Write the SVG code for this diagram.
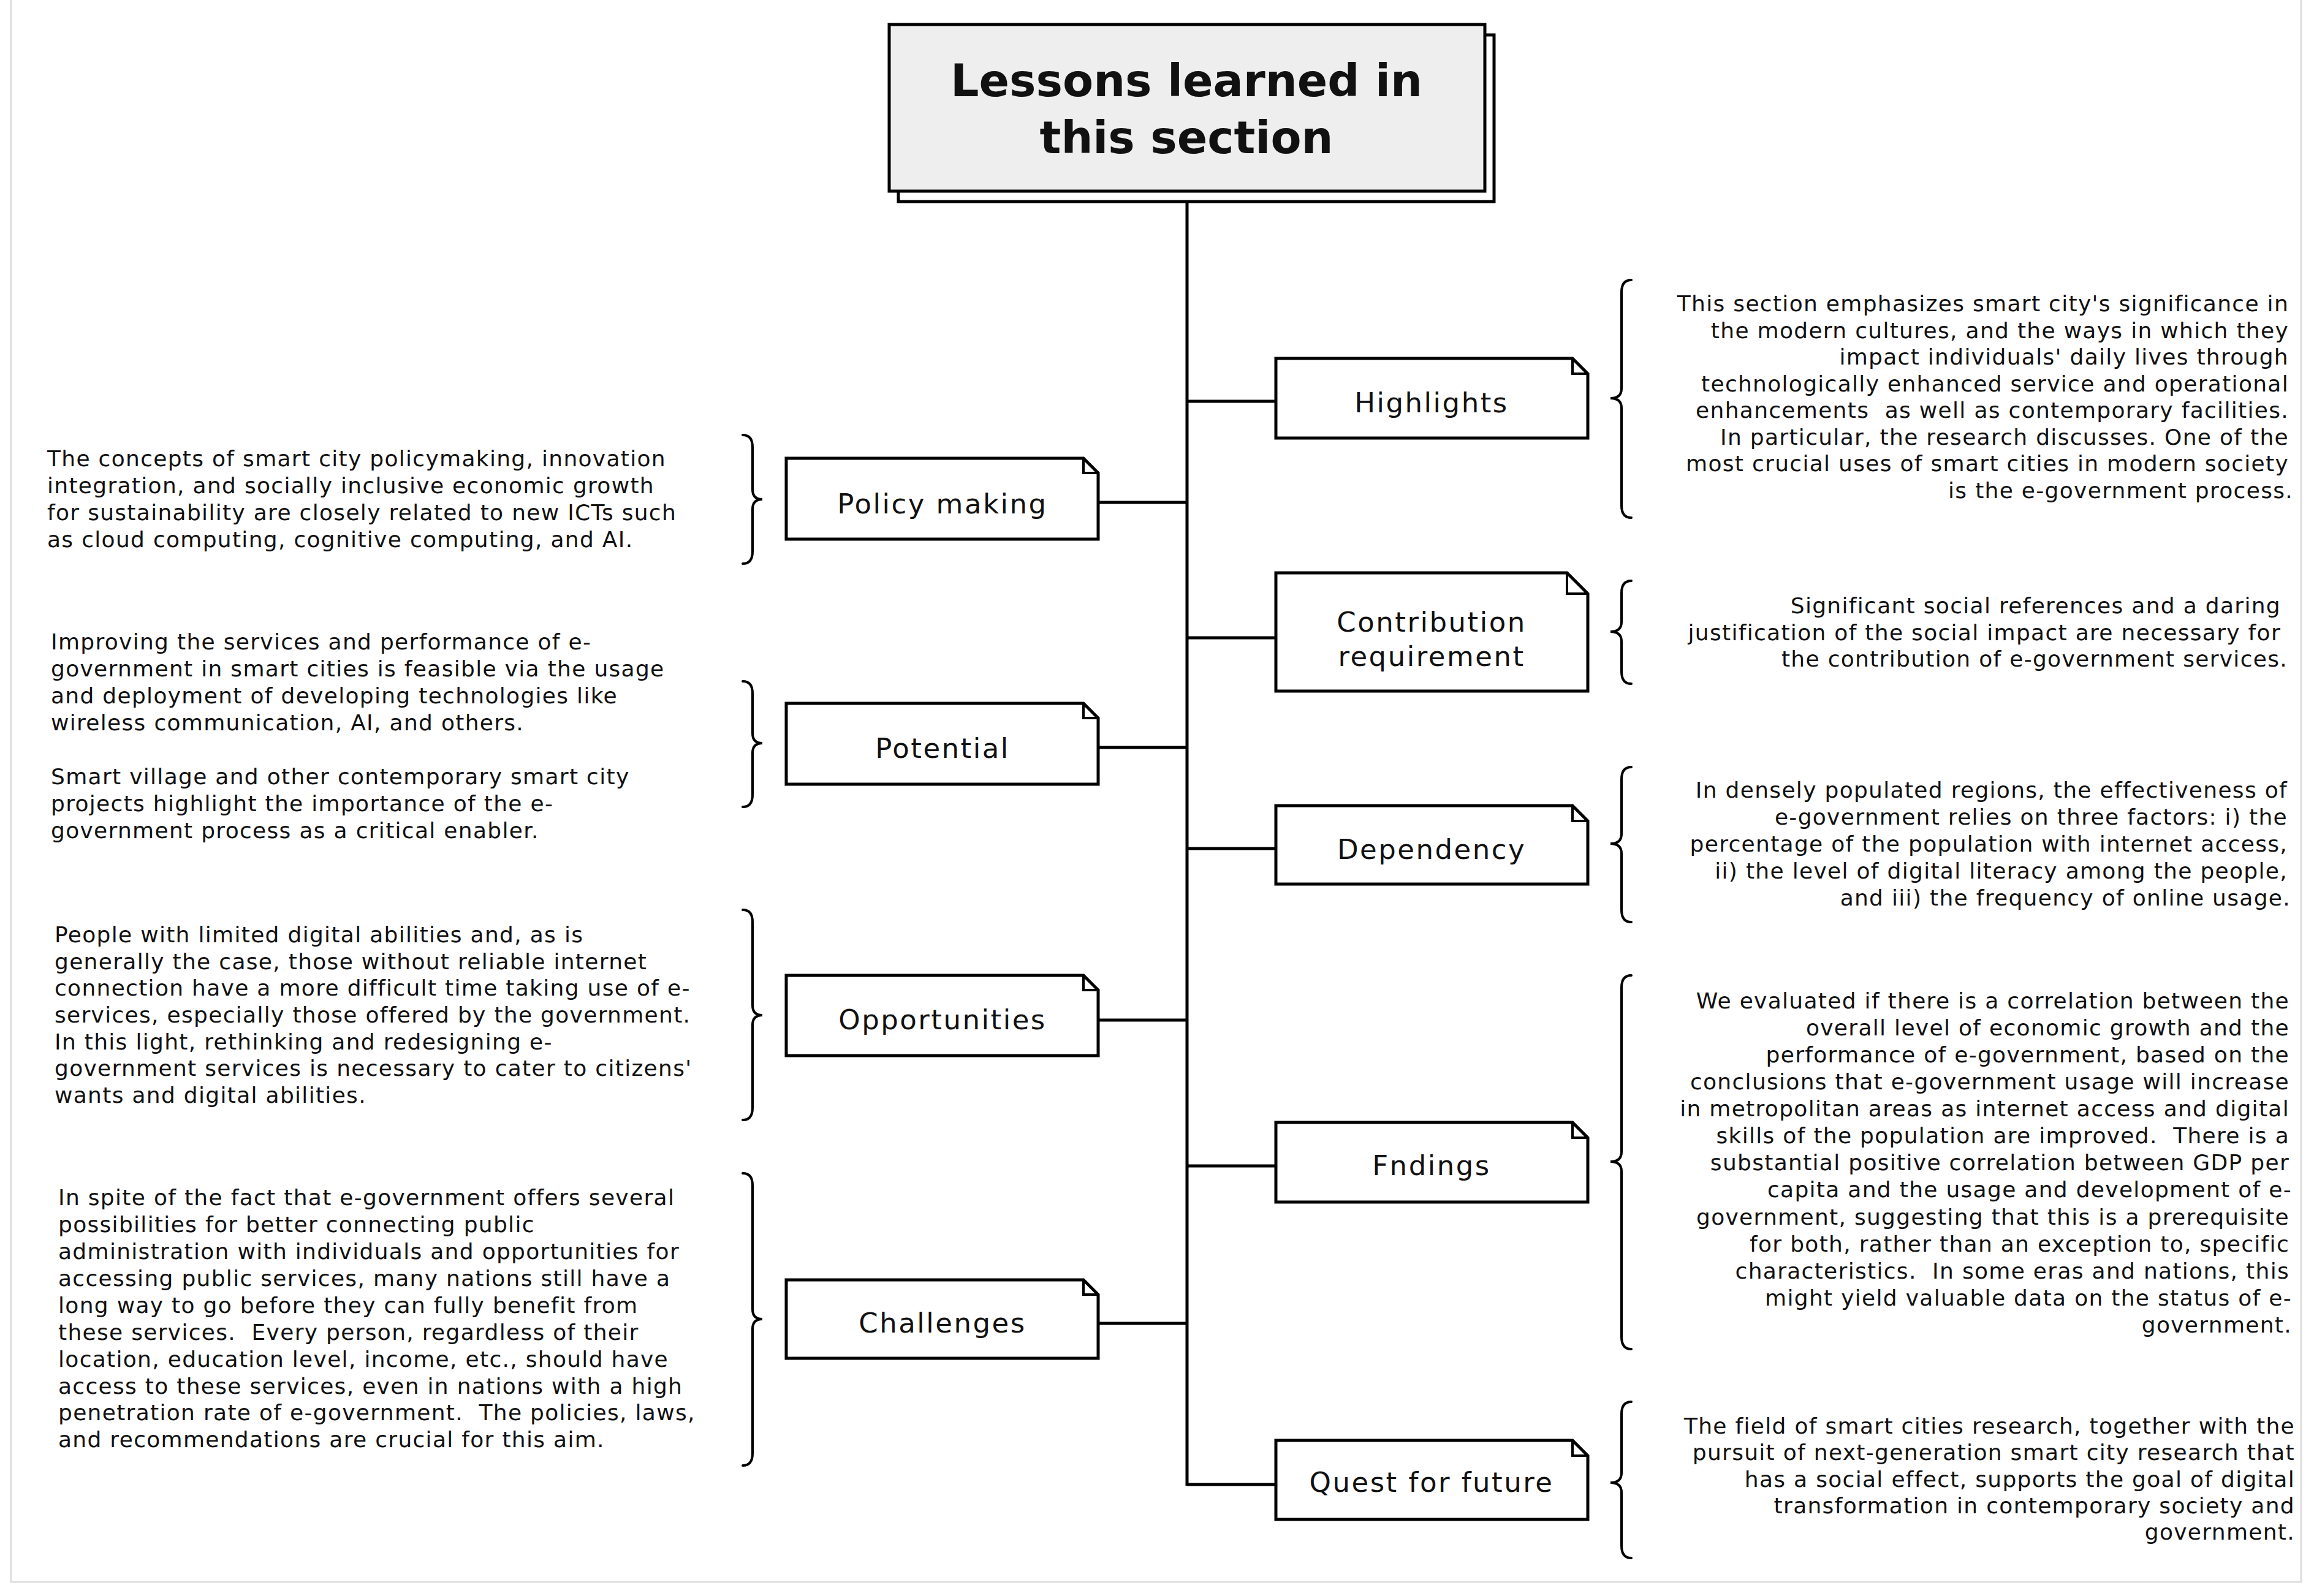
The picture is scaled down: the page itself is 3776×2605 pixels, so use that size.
<svg xmlns="http://www.w3.org/2000/svg" width="3776" height="2605" viewBox="0 0 3776 2605">
<style>
.frame{fill:none;stroke:#dddddd;stroke-width:3}
.box{fill:#ffffff;stroke:#000;stroke-width:5;stroke-linejoin:miter}
.fold{fill:none;stroke:#000;stroke-width:4}
.lbl{font-family:"DejaVu Sans",sans-serif;font-size:45px;letter-spacing:2.5px;fill:#111;text-anchor:middle}
.title{font-family:"DejaVu Sans",sans-serif;font-weight:bold;font-size:73px;fill:#111;text-anchor:middle}
.body{font-family:"DejaVu Sans",sans-serif;font-size:36px;letter-spacing:1.3px;fill:#111}
.r{text-anchor:end}
.brace{fill:none;stroke:#000;stroke-width:4;stroke-linecap:round}
.conn{fill:none;stroke:#000;stroke-width:5}
</style>
<rect class="frame" x="18" y="-10" width="3737" height="2592"/>

<g id="title">
<rect x="1466" y="57" width="972" height="272" fill="#fff" stroke="#000" stroke-width="5"/>
<rect x="1451" y="40" width="972" height="272" fill="#eeeeee" stroke="#000" stroke-width="5"/>
<text class="title"><tspan x="1936" y="157">Lessons learned in</tspan><tspan x="1936" y="250">this section</tspan></text>
</g>

<g id="connectors">
<line class="conn" x1="1937" y1="329" x2="1937" y2="2425"/>
<line class="conn" x1="1937" y1="655" x2="2082" y2="655"/>
<line class="conn" x1="1792" y1="820" x2="1937" y2="820"/>
<line class="conn" x1="1937" y1="1041" x2="2082" y2="1041"/>
<line class="conn" x1="1792" y1="1220" x2="1937" y2="1220"/>
<line class="conn" x1="1937" y1="1385" x2="2082" y2="1385"/>
<line class="conn" x1="1792" y1="1665" x2="1937" y2="1665"/>
<line class="conn" x1="1937" y1="1903" x2="2082" y2="1903"/>
<line class="conn" x1="1792" y1="2160" x2="1937" y2="2160"/>
<line class="conn" x1="1937" y1="2423" x2="2082" y2="2423"/>
</g>

<g id="highlights">
<path class="box" d="M2082,585 H2566 L2591,610 V715 H2082 Z"/>
<path class="fold" d="M2566,585 V610 H2591"/>
<text class="lbl" x="2336" y="673">Highlights</text>
<path class="brace" d="M2662,457 Q2646,457 2646,477 L2646,634 Q2646,650 2628,650 Q2646,650 2646,666 L2646,825 Q2646,845 2662,845"/>
<text class="body r"><tspan x="3735" y="508">This section emphasizes smart city's significance in</tspan><tspan x="3735" y="551.5">the modern cultures, and the ways in which they</tspan><tspan x="3735" y="595">impact individuals' daily lives through</tspan><tspan x="3735" y="638.5">technologically enhanced service and operational</tspan><tspan x="3735" y="682">enhancements&#160; as well as contemporary facilities.</tspan><tspan x="3735" y="725.5">In particular, the research discusses. One of the</tspan><tspan x="3735" y="769">most crucial uses of smart cities in modern society</tspan><tspan x="3742" y="812.5">is the e-government process.</tspan></text>
</g>

<g id="policy-making">
<path class="box" d="M1283,748 H1768 L1792,772 V880 H1283 Z"/>
<path class="fold" d="M1768,748 V772 H1792"/>
<text class="lbl" x="1538" y="838">Policy making</text>
<path class="brace" d="M1212,710 Q1228,710 1228,730 L1228,799 Q1228,815 1244,815 Q1228,815 1228,831 L1228,900 Q1228,920 1212,920"/>
<text class="body"><tspan x="77" y="761">The concepts of smart city policymaking, innovation</tspan><tspan x="77" y="805">integration, and socially inclusive economic growth</tspan><tspan x="77" y="849">for sustainability are closely related to new ICTs such</tspan><tspan x="77" y="893">as cloud computing, cognitive computing, and AI.</tspan></text>
</g>

<g id="contribution-requirement">
<path class="box" d="M2082,935 H2557 L2591,969 V1128 H2082 Z"/>
<path class="fold" d="M2557,935 V969 H2591"/>
<text class="lbl"><tspan x="2336" y="1031">Contribution</tspan><tspan x="2336" y="1087">requirement</tspan></text>
<path class="brace" d="M2662,948 Q2646,948 2646,968 L2646,1015 Q2646,1031 2628,1031 Q2646,1031 2646,1047 L2646,1096 Q2646,1116 2662,1116"/>
<text class="body r"><tspan x="3722" y="1001">Significant social references and a daring</tspan><tspan x="3722" y="1044.5">justification of the social impact are necessary for</tspan><tspan x="3733" y="1088">the contribution of e-government services.</tspan></text>
</g>

<g id="potential">
<path class="box" d="M1283,1148 H1768 L1792,1172 V1280 H1283 Z"/>
<path class="fold" d="M1768,1148 V1172 H1792"/>
<text class="lbl" x="1538" y="1237">Potential</text>
<path class="brace" d="M1212,1112 Q1228,1112 1228,1132 L1228,1197 Q1228,1213 1244,1213 Q1228,1213 1228,1229 L1228,1297 Q1228,1317 1212,1317"/>
<text class="body"><tspan x="83" y="1060">Improving the services and performance of e-</tspan><tspan x="83" y="1104">government in smart cities is feasible via the usage</tspan><tspan x="83" y="1148">and deployment of developing technologies like</tspan><tspan x="83" y="1192">wireless communication, AI, and others.</tspan><tspan x="83" y="1280">Smart village and other contemporary smart city</tspan><tspan x="83" y="1324">projects highlight the importance of the e-</tspan><tspan x="83" y="1368">government process as a critical enabler.</tspan></text>
</g>

<g id="dependency">
<path class="box" d="M2082,1315 H2566 L2591,1340 V1443 H2082 Z"/>
<path class="fold" d="M2566,1315 V1340 H2591"/>
<text class="lbl" x="2336" y="1402">Dependency</text>
<path class="brace" d="M2662,1252 Q2646,1252 2646,1272 L2646,1361 Q2646,1377 2628,1377 Q2646,1377 2646,1393 L2646,1485 Q2646,1505 2662,1505"/>
<text class="body r"><tspan x="3733" y="1302">In densely populated regions, the effectiveness of</tspan><tspan x="3733" y="1346">e-government relies on three factors: i) the</tspan><tspan x="3733" y="1390">percentage of the population with internet access,</tspan><tspan x="3733" y="1434">ii) the level of digital literacy among the people,</tspan><tspan x="3738" y="1478">and iii) the frequency of online usage.</tspan></text>
</g>

<g id="opportunities">
<path class="box" d="M1283,1592 H1768 L1792,1616 V1723 H1283 Z"/>
<path class="fold" d="M1768,1592 V1616 H1792"/>
<text class="lbl" x="1538" y="1680">Opportunities</text>
<path class="brace" d="M1212,1485 Q1228,1485 1228,1505 L1228,1641 Q1228,1657 1244,1657 Q1228,1657 1228,1673 L1228,1808 Q1228,1828 1212,1828"/>
<text class="body"><tspan x="89" y="1538">People with limited digital abilities and, as is</tspan><tspan x="89" y="1582">generally the case, those without reliable internet</tspan><tspan x="89" y="1625">connection have a more difficult time taking use of e-</tspan><tspan x="89" y="1669">services, especially those offered by the government.</tspan><tspan x="89" y="1713">In this light, rethinking and redesigning e-</tspan><tspan x="89" y="1756">government services is necessary to cater to citizens'</tspan><tspan x="89" y="1800">wants and digital abilities.</tspan></text>
</g>

<g id="findings">
<path class="box" d="M2082,1832 H2566 L2591,1857 V1962 H2082 Z"/>
<path class="fold" d="M2566,1832 V1857 H2591"/>
<text class="lbl" x="2336" y="1918">Fndings</text>
<path class="brace" d="M2662,1592 Q2646,1592 2646,1612 L2646,1880 Q2646,1896 2628,1896 Q2646,1896 2646,1912 L2646,2182 Q2646,2202 2662,2202"/>
<text class="body r"><tspan x="3736" y="1646">We evaluated if there is a correlation between the</tspan><tspan x="3736" y="1690">overall level of economic growth and the</tspan><tspan x="3736" y="1734">performance of e-government, based on the</tspan><tspan x="3736" y="1778">conclusions that e-government usage will increase</tspan><tspan x="3736" y="1822">in metropolitan areas as internet access and digital</tspan><tspan x="3736" y="1866">skills of the population are improved.&#160; There is a</tspan><tspan x="3736" y="1910">substantial positive correlation between GDP per</tspan><tspan x="3740" y="1954">capita and the usage and development of e-</tspan><tspan x="3736" y="1999">government, suggesting that this is a prerequisite</tspan><tspan x="3736" y="2043">for both, rather than an exception to, specific</tspan><tspan x="3736" y="2087">characteristics.&#160; In some eras and nations, this</tspan><tspan x="3740" y="2131">might yield valuable data on the status of e-</tspan><tspan x="3740" y="2175">government.</tspan></text>
</g>

<g id="challenges">
<path class="box" d="M1283,2089 H1768 L1792,2113 V2217 H1283 Z"/>
<path class="fold" d="M1768,2089 V2113 H1792"/>
<text class="lbl" x="1538" y="2175">Challenges</text>
<path class="brace" d="M1212,1915 Q1228,1915 1228,1935 L1228,2137 Q1228,2153 1244,2153 Q1228,2153 1228,2169 L1228,2372 Q1228,2392 1212,2392"/>
<text class="body"><tspan x="95" y="1967">In spite of the fact that e-government offers several</tspan><tspan x="95" y="2011">possibilities for better connecting public</tspan><tspan x="95" y="2055">administration with individuals and opportunities for</tspan><tspan x="95" y="2099">accessing public services, many nations still have a</tspan><tspan x="95" y="2143">long way to go before they can fully benefit from</tspan><tspan x="95" y="2187">these services.&#160; Every person, regardless of their</tspan><tspan x="95" y="2231">location, education level, income, etc., should have</tspan><tspan x="95" y="2275">access to these services, even in nations with a high</tspan><tspan x="95" y="2318">penetration rate of e-government.&#160; The policies, laws,</tspan><tspan x="95" y="2362">and recommendations are crucial for this aim.</tspan></text>
</g>

<g id="quest-for-future">
<path class="box" d="M2082,2351 H2566 L2591,2376 V2480 H2082 Z"/>
<path class="fold" d="M2566,2351 V2376 H2591"/>
<text class="lbl" x="2336" y="2435">Quest for future</text>
<path class="brace" d="M2662,2288 Q2646,2288 2646,2308 L2646,2404 Q2646,2420 2628,2420 Q2646,2420 2646,2436 L2646,2523 Q2646,2543 2662,2543"/>
<text class="body r"><tspan x="3745" y="2340">The field of smart cities research, together with the</tspan><tspan x="3745" y="2383">pursuit of next-generation smart city research that</tspan><tspan x="3745" y="2427">has a social effect, supports the goal of digital</tspan><tspan x="3745" y="2470">transformation in contemporary society and</tspan><tspan x="3745" y="2513">government.</tspan></text>
</g>
</svg>
